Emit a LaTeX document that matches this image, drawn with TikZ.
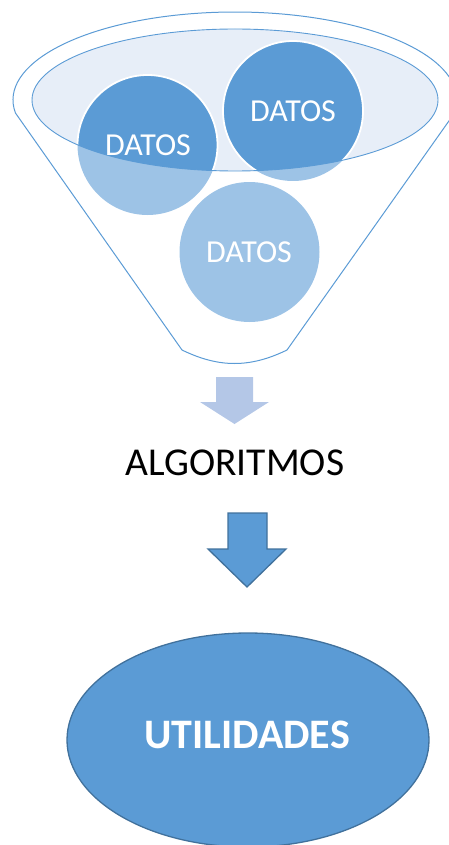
\documentclass[tikz,border=0pt]{standalone}
\usepackage{fontspec}
\setmainfont{Carlito}
\definecolor{blueA}{HTML}{5B9BD5}
\definecolor{blueL}{HTML}{9DC3E6}
\definecolor{blueF}{HTML}{E7EEF8}
\definecolor{blueS}{HTML}{41719C}
\definecolor{arrowL}{HTML}{B4C7E7}
\tikzset{
  funnelline/.style={draw=blueA, line width=1pt},
  datostext/.style={text=white, inner sep=0pt, font=\fontsize{32}{38}\selectfont},
  darkcircle/.style={fill=blueA, draw=white, line width=1.8pt},
  lightcircle/.style={fill=blueL},
}
\begin{document}
\begin{tikzpicture}[x=1pt,y=-1pt]
\useasboundingbox (0,0) rectangle (448,845);
% circle centres
\coordinate (cA) at (147.5,145);
\coordinate (cB) at (293,111);
\coordinate (cC) at (249.5,252);
\coordinate (fc) at (235,100);
% funnel outline
\coordinate (bl) at (182,350);
\coordinate (br) at (287,350);
\draw[funnelline] (bl) -- ([shift={(171.5:222 and 88)}]fc)
  arc[start angle=171.5, end angle=368.5, x radius=222, y radius=88]
  -- (br) .. controls (250,368) and (219,368) .. cycle;
% inner ellipse fill
\fill[blueF] (fc) ellipse[x radius=203, y radius=71];
% circles, light parts
\fill[lightcircle] (cA) circle[radius=70];
\fill[lightcircle] (cB) circle[radius=70];
\fill[lightcircle] (cC) circle[radius=70];
% circles, dark parts within the ellipse
\begin{scope}
  \clip (fc) ellipse[x radius=203, y radius=71];
  \path[darkcircle] (cA) circle[radius=70];
  \path[darkcircle] (cB) circle[radius=70];
  \path[darkcircle] (cC) circle[radius=70];
\end{scope}
% inner ellipse outline
\draw[blueA, line width=0.9pt] (fc) ellipse[x radius=203, y radius=71];
% labels
\node[datostext] (datosA) at (148,145) {DATOS};
\node[datostext] (datosB) at (293,111) {DATOS};
\node[datostext] (datosC) at (249,252) {DATOS};
% light arrow
\fill[arrowL] (216,377) -- (253,377) -- (253,402) -- (269,402) -- (234.5,424)
  -- (200,402) -- (216,402) -- cycle;
% ALGORITMOS
\node[inner sep=0pt, font=\fontsize{39.5}{46}\selectfont] (algo) at (235,462.5) {ALGORITMOS};
% dark arrow
\filldraw[fill=blueA, draw=blueS, line width=1.3pt] (228,513) -- (267,513) -- (267,549)
  -- (286,549) -- (247,587) -- (208,549) -- (228,549) -- cycle;
% UTILIDADES ellipse
\filldraw[fill=blueA, draw=blueS, line width=1.3pt] (248,740) ellipse[x radius=181, y radius=107];
\node[text=white, inner sep=0pt, font=\bfseries\fontsize{42}{50}\selectfont] (util) at (247,735) {UTILIDADES};
\end{tikzpicture}
\end{document}
